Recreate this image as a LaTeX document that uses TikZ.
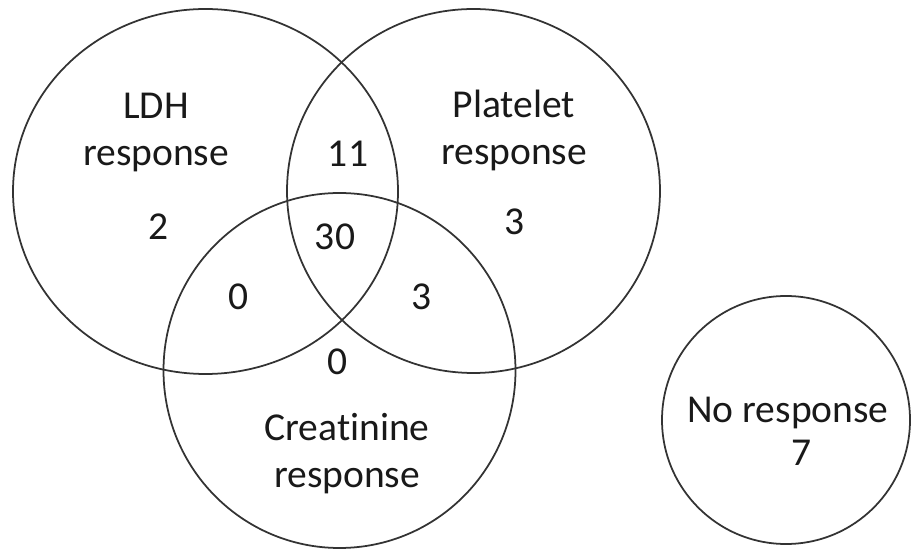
\documentclass[tikz,border=0pt]{standalone}
\usepackage{fontspec}
\setmainfont{Carlito}[Ligatures=NoCommon]
\usepackage{tikz}
\usetikzlibrary{positioning}

\begin{document}
\begin{tikzpicture}[scale=1.0,
    set/.style={line width=1pt,black!80},
    lbl/.style={anchor=base,align=center,text=black!90,inner sep=0pt,
      font=\fontsize{22.5}{27.3}\selectfont}]
  \useasboundingbox (0,0) rectangle (18.22,11);
  % the three sets and the empty one
  \draw[set] (4.11,7.17) ellipse [x radius=3.85,y radius=3.65];
  \draw[set] (9.47,7.18) ellipse [x radius=3.73,y radius=3.64];
  \draw[set] (6.79,3.59) ellipse [x radius=3.52,y radius=3.55];
  \draw[set] (15.72,2.60) circle (2.48);
  \node[lbl] (ldh) at (3.12,7.68) {LDH\\response};
  \node[lbl] (plt) at (10.28,7.70) {Platelet\\response};
  \node[lbl] (cre) at (6.94,1.24) {Creat\kern0pt ini\kern0pt ne\\response};
  \node[lbl] (nor) at (15.76,2.54) {No response};
  % counts
  \node[lbl] (nnor) at (16.04,1.70) {7};
  \node[lbl] (nldh) at (3.18,6.20) {2};
  \node[lbl] (nlp) at (6.96,7.66) {11};
  \node[lbl] (nall) at (6.70,6.00) {30};
  \node[lbl] (nplt) at (10.30,6.30) {3};
  \node[lbl] (nlc) at (4.78,4.80) {0};
  \node[lbl] (npc) at (8.44,4.80) {3};
  \node[lbl] (ncre) at (6.76,3.50) {0};
\end{tikzpicture}
\end{document}
